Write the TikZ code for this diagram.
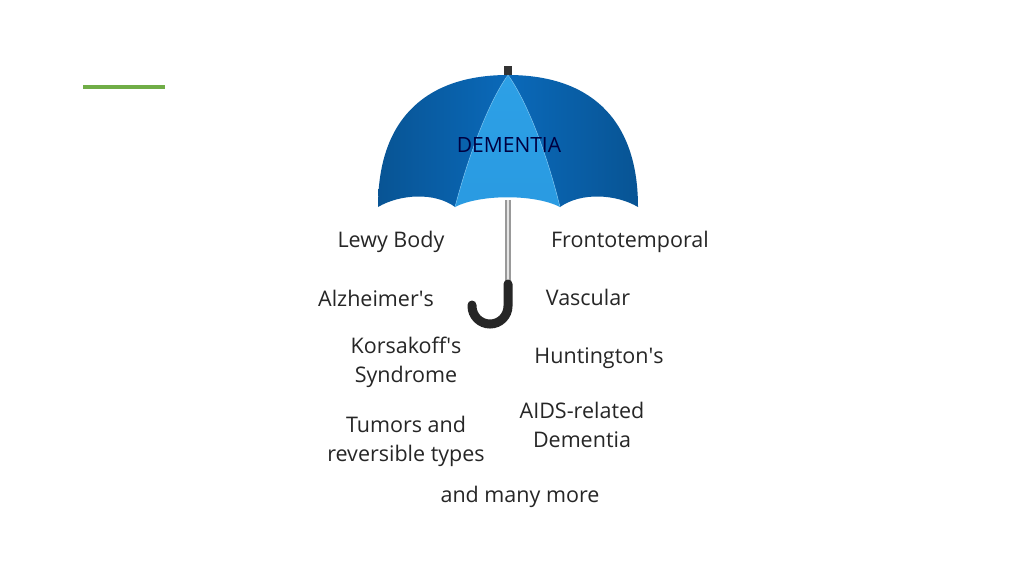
\documentclass[tikz,border=0pt]{standalone}
\usepackage{fontspec}
\setmainfont{Open Sans}
\begin{document}
\begin{tikzpicture}[x=1pt,y=-1pt,
  lbl/.style={font=\fontsize{21.5}{29}\selectfont,text=black!85,align=center,inner sep=0pt}]
\useasboundingbox[fill=white] (0,0) rectangle (1024,576);
\definecolor{dk}{RGB}{10,105,185}
\definecolor{lt}{RGB}{45,160,230}
\definecolor{gr}{RGB}{112,173,71}
\draw[gr,line width=4.5pt] (83,87) -- (165,87);
% tip
\fill[black!80] (504,66) rectangle (512,78);
% left panel
\shade[left color=dk!80!black,right color=dk] (508,75) .. controls (430,75) and (378,115) .. (378,207)
  .. controls (400,194) and (435,192) .. (455,207) .. controls (470,150) and (490,100) .. (508,75) -- cycle;
% right panel
\shade[left color=dk,right color=dk!80!black] (508,75) .. controls (586,75) and (638,115) .. (638,207)
  .. controls (616,194) and (581,192) .. (560,207) .. controls (546,150) and (526,100) .. (508,75) -- cycle;
% middle panel
\shade[top color=lt,bottom color=lt!90!dk] (508,75) .. controls (490,100) and (470,150) .. (455,207)
  .. controls (480,194) and (535,194) .. (560,207) .. controls (546,150) and (526,100) .. (508,75) -- cycle;
\draw[lt!60!white,line width=0.6pt,opacity=0.7] (508,75) .. controls (490,100) and (470,150) .. (455,207);
\draw[lt!60!white,line width=0.6pt,opacity=0.7] (508,75) .. controls (526,100) and (546,150) .. (560,207);
% shaft
\fill[black!40] (505,200) rectangle (511,285);
\fill[black!10] (507,200) rectangle (509,285);
% handle
\draw[black!85,line width=9pt,line cap=round] (508,284) -- (508,306) arc[start angle=0,end angle=180,radius=18] -- (472,305);
\node[lbl,font=\fontsize{21}{23}\selectfont,text=blue!25!black] (dem) at (509,145) {DEMENTIA};
\node[lbl] (lb) at (391,242) {Lewy Body};
\node[lbl] (ft) at (630,242) {Frontotemporal};
\node[lbl] (al) at (376,298) {Alzheimer\textquotesingle s};
\node[lbl] (va) at (588,297) {Vascular};
\node[lbl] (ko) at (406,362) {Korsakoff\textquotesingle s\\Syndrome};
\node[lbl] (hu) at (599,358) {Huntington\textquotesingle s};
\node[lbl] (ai) at (582,425) {AIDS-related\\Dementia};
\node[lbl] (tu) at (406,441) {Tumors and\\reversible types};
\node[lbl] (mm) at (520,497) {and many more};
\end{tikzpicture}
\end{document}
